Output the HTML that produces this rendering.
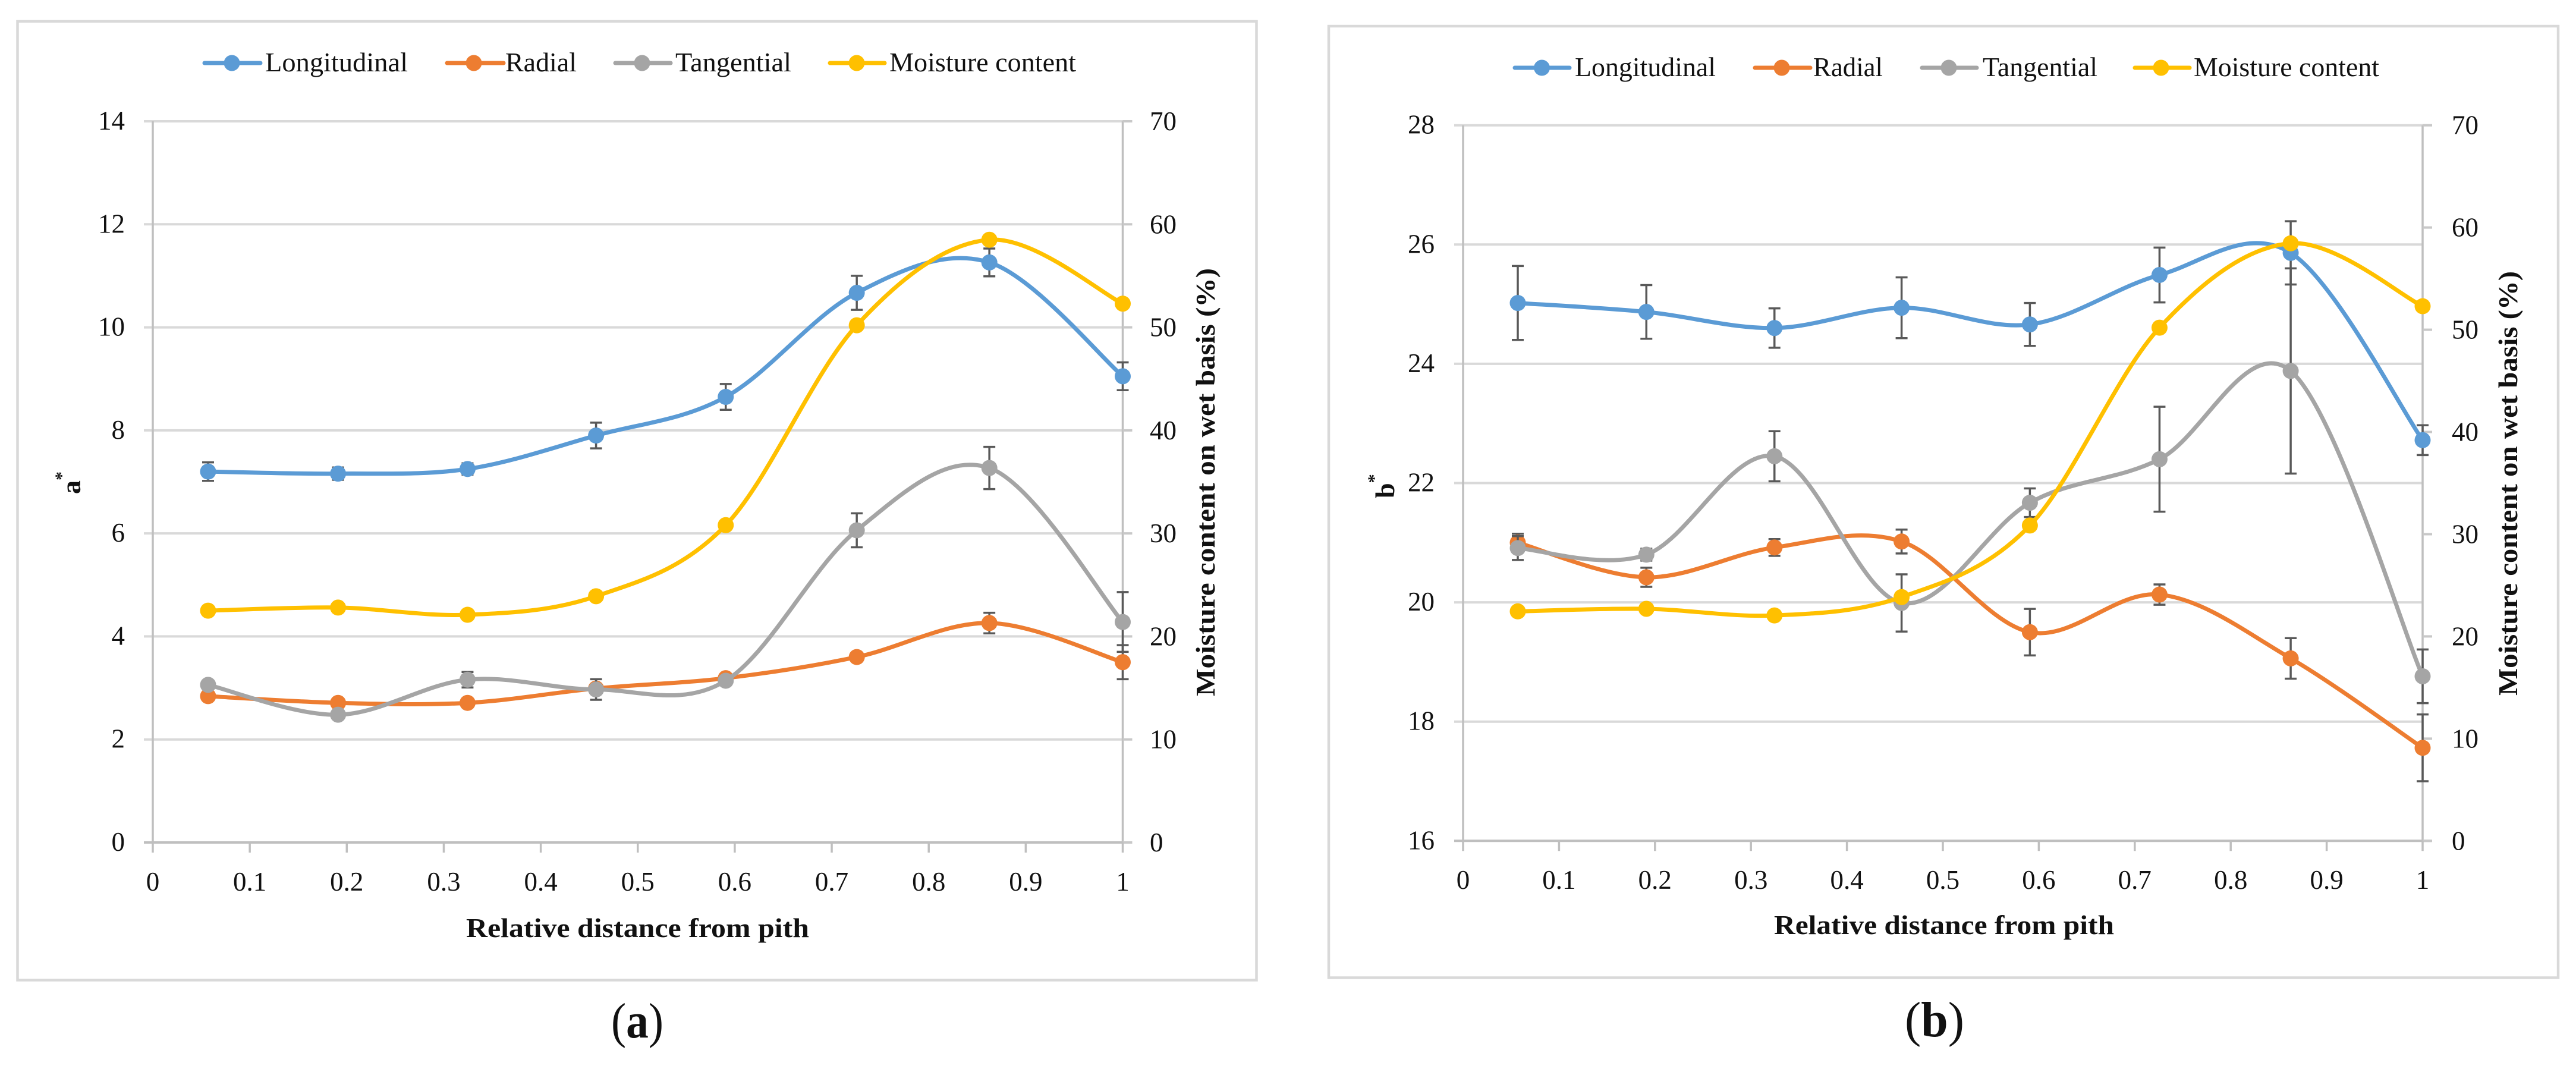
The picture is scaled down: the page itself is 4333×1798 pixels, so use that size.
<!DOCTYPE html>
<html lang="en">
<head>
<meta charset="utf-8">
<title>a* and b* versus relative distance from pith</title>
<style>
html,body{margin:0;padding:0;background:#fff;}
svg{display:block;}
text{font-family:"Liberation Serif",serif;fill:#111;}
.legend{font-size:45px;}
.tick{font-size:45px;}
.title{font-size:46px;font-weight:bold;}
.cap{font-size:84px;}
</style>
</head>
<body>
<svg id="figure" xmlns="http://www.w3.org/2000/svg" width="4333" height="1798" viewBox="0 0 4333 1798">
<rect x="0" y="0" width="4333" height="1798" fill="#fff"/>
<rect x="29.5" y="36" width="2084" height="1612.5" fill="#fff" stroke="#d9d9d9" stroke-width="4.5"/>
<rect x="2235" y="44" width="2068" height="1600.5" fill="#fff" stroke="#d9d9d9" stroke-width="4.5"/>

<g id="plot-a"></g>
<g id="plot-b"></g>

<g>
  <g>
    <line x1="344" x2="438" y1="106" y2="106" stroke="#5B9BD5" stroke-width="7" stroke-linecap="round"/><circle cx="390" cy="106" r="13.5" fill="#5B9BD5"/>
    <text class="legend" x="446" y="120" textLength="240" lengthAdjust="spacingAndGlyphs">Longitudinal</text>
  </g>
  <g>
    <line x1="752" x2="847" y1="106" y2="106" stroke="#ED7D31" stroke-width="7" stroke-linecap="round"/><circle cx="797" cy="106" r="13.5" fill="#ED7D31"/>
    <text class="legend" x="850" y="120" textLength="120" lengthAdjust="spacingAndGlyphs">Radial</text>
  </g>
  <g>
    <line x1="1035" x2="1128" y1="106" y2="106" stroke="#A5A5A5" stroke-width="7" stroke-linecap="round"/><circle cx="1080" cy="106" r="13.5" fill="#A5A5A5"/>
    <text class="legend" x="1136" y="120" textLength="195" lengthAdjust="spacingAndGlyphs">Tangential</text>
  </g>
  <g>
    <line x1="1396" x2="1488" y1="106" y2="106" stroke="#FFC000" stroke-width="7" stroke-linecap="round"/><circle cx="1441" cy="106" r="13.5" fill="#FFC000"/>
    <text class="legend" x="1496" y="120" textLength="314" lengthAdjust="spacingAndGlyphs">Moisture content</text>
  </g>
</g>

<g>
  <g>
    <line x1="2548" x2="2640" y1="114" y2="114" stroke="#5B9BD5" stroke-width="7" stroke-linecap="round"/><circle cx="2593.5" cy="114" r="13.5" fill="#5B9BD5"/>
    <text class="legend" x="2649" y="128" textLength="237" lengthAdjust="spacingAndGlyphs">Longitudinal</text>
  </g>
  <g>
    <line x1="2952" x2="3045" y1="114" y2="114" stroke="#ED7D31" stroke-width="7" stroke-linecap="round"/><circle cx="2997" cy="114" r="13.5" fill="#ED7D31"/>
    <text class="legend" x="3050" y="128" textLength="117" lengthAdjust="spacingAndGlyphs">Radial</text>
  </g>
  <g>
    <line x1="3233" x2="3325" y1="114" y2="114" stroke="#A5A5A5" stroke-width="7" stroke-linecap="round"/><circle cx="3278" cy="114" r="13.5" fill="#A5A5A5"/>
    <text class="legend" x="3335" y="128" textLength="193" lengthAdjust="spacingAndGlyphs">Tangential</text>
  </g>
  <g>
    <line x1="3591" x2="3683" y1="114" y2="114" stroke="#FFC000" stroke-width="7" stroke-linecap="round"/><circle cx="3635" cy="114" r="13.5" fill="#FFC000"/>
    <text class="legend" x="3690" y="128" textLength="312" lengthAdjust="spacingAndGlyphs">Moisture content</text>
  </g>
</g>

<text class="title" x="784" y="1576" textLength="577" lengthAdjust="spacingAndGlyphs">Relative distance from pith</text>
<text class="title" x="2984" y="1571" textLength="572" lengthAdjust="spacingAndGlyphs">Relative distance from pith</text>

<text class="title" transform="translate(135,831) rotate(-90)">a<tspan font-size="30" dy="-22">*</tspan></text>
<text class="title" transform="translate(2345,838) rotate(-90)">b<tspan font-size="30" dy="-24">*</tspan></text>

<text class="title" transform="translate(2043,1171) rotate(-90)" textLength="720" lengthAdjust="spacingAndGlyphs">Moisture content on wet basis (%)</text>
<text class="title" transform="translate(4234,1170) rotate(-90)" textLength="714" lengthAdjust="spacingAndGlyphs">Moisture content on wet basis (%)</text>

<text class="cap" x="1028" y="1745" textLength="88" lengthAdjust="spacingAndGlyphs">(<tspan font-weight="bold">a</tspan>)</text>
<text class="cap" x="3204" y="1743" textLength="100" lengthAdjust="spacingAndGlyphs">(<tspan font-weight="bold">b</tspan>)</text>
</svg>

<script>
// ---------- shared data ----------
const relativeDistance = [0.057, 0.191, 0.3245, 0.457, 0.5907, 0.7258, 0.8625, 1];
const xTickLabels = ['0','0.1','0.2','0.3','0.4','0.5','0.6','0.7','0.8','0.9','1'];
const xTickValues = [0,0.1,0.2,0.3,0.4,0.5,0.6,0.7,0.8,0.9,1];
const moistureTickValues = [0,10,20,30,40,50,60,70];

// ---------- panel a data ----------
const aTickValues = [0,2,4,6,8,10,12,14];
const aLongitudinal = [7.2,7.16,7.25,7.9,8.65,10.67,11.26,9.05];
const aLongitudinalErr = [0.18,0.12,0.11,0.25,0.25,0.33,0.27,0.27];
const aRadial = [2.84,2.71,2.71,2.99,3.19,3.60,4.26,3.50];
const aRadialErr = [0.05,0.05,0.05,0.05,0.05,0.05,0.20,0.33];
const aTangential = [3.06,2.48,3.16,2.97,3.14,6.06,7.27,4.28];
const aTangentialErr = [0.05,0.05,0.15,0.20,0.05,0.33,0.41,0.58];
const aMoisture = [22.5,22.8,22.1,23.9,30.8,50.2,58.5,52.3];

// ---------- panel b data ----------
const bTickValues = [16,18,20,22,24,26,28];
const bLongitudinal = [25.02,24.87,24.60,24.94,24.66,25.49,25.86,22.72];
const bLongitudinalErr = [0.62,0.45,0.33,0.51,0.36,0.46,0.53,0.25];
const bRadial = [21.00,20.42,20.92,21.02,19.50,20.13,19.06,17.56];
const bRadialErr = [0.15,0.16,0.14,0.20,0.39,0.17,0.34,0.56];
const bTangential = [20.91,20.80,22.45,19.99,21.67,22.40,23.88,18.76];
const bTangentialErr = [0.20,0.10,0.42,0.48,0.24,0.88,1.72,0.45];
const bMoisture = [22.45,22.7,22.05,23.85,30.85,50.2,58.45,52.3];

const SVGNS = 'http://www.w3.org/2000/svg';
function make(tag, attrs, parent) {
  const node = document.createElementNS(SVGNS, tag);
  for (const k in attrs) node.setAttribute(k, attrs[k]);
  parent.appendChild(node);
  return node;
}

// Smooth line (Catmull-Rom to Bezier), like spreadsheet "smoothed line"
function smoothPath(pts) {
  let d = 'M' + pts[0][0] + ' ' + pts[0][1];
  for (let i = 0; i < pts.length - 1; i++) {
    const p0 = pts[Math.max(i - 1, 0)], p1 = pts[i], p2 = pts[i + 1], p3 = pts[Math.min(i + 2, pts.length - 1)];
    const c1x = p1[0] + (p2[0] - p0[0]) / 6, c1y = p1[1] + (p2[1] - p0[1]) / 6;
    const c2x = p2[0] - (p3[0] - p1[0]) / 6, c2y = p2[1] - (p3[1] - p1[1]) / 6;
    d += ' C' + c1x + ' ' + c1y + ' ' + c2x + ' ' + c2y + ' ' + p2[0] + ' ' + p2[1];
  }
  return d;
}

function drawPanel(id, box, yDomain, yTicks, seriesList, moisture, labelPos) {
  const root = document.getElementById('plot-' + id);
  const xScale = v => box.left + (box.right - box.left) * v;
  const yScale = v => box.bottom - (box.bottom - box.top) * (v - yDomain[0]) / (yDomain[1] - yDomain[0]);
  const y2Scale = v => box.bottom - (box.bottom - box.top) * v / 70;

  // gridlines and left tick marks
  yTicks.forEach(v => {
    const y = yScale(v);
    if (v !== yDomain[0]) {
      const g = make('line', {x1: box.left - 15, x2: box.right, y1: y, y2: y, stroke: '#d9d9d9', 'stroke-width': 4}, root);
      
      
    }
    const t = make('text', {class: 'tick', x: labelPos.yRight, y: y + 14, 'text-anchor': 'end'}, root);
    
    
    t.textContent = String(v);
  });

  // axes
  const leftAxis = make('line', {x1: box.left, x2: box.left, y1: box.top, y2: box.bottom, stroke: '#bfbfbf', 'stroke-width': 3.5}, root);
  
  
  const rightAxis = make('line', {x1: box.right, x2: box.right, y1: box.top, y2: box.bottom, stroke: '#bfbfbf', 'stroke-width': 3.5}, root);
  
  
  const bottomAxis = make('line', {x1: box.left - 15, x2: box.right + 15, y1: box.bottom, y2: box.bottom, stroke: '#bfbfbf', 'stroke-width': 4}, root);
  
  

  // secondary axis ticks
  moistureTickValues.forEach(v => {
    const y = y2Scale(v);
    const m = make('line', {x1: box.right, x2: box.right + 16, y1: y, y2: y, stroke: '#c8c8c8', 'stroke-width': 4}, root);
    
    
    const t = make('text', {class: 'tick', x: labelPos.y2Left, y: y + 15}, root);
    
    
    t.textContent = String(v);
  });

  // x ticks
  xTickValues.forEach((v, i) => {
    const x = xScale(v);
    const m = make('line', {x1: x, x2: x, y1: box.bottom, y2: box.bottom + 17, stroke: '#bfbfbf', 'stroke-width': 3.5}, root);
    
    
    const t = make('text', {class: 'tick', x: x, y: labelPos.xBaseline, 'text-anchor': 'middle'}, root);
    
    
    t.textContent = xTickLabels[i];
  });

  // primary-axis series with error bars
  seriesList.forEach(s => {
    const pts = s.values.map((v, i) => [xScale(relativeDistance[i]), yScale(v)]);
    const group = make('g', {}, root);
    
    

    s.values.forEach((v, i) => {
      const x = xScale(relativeDistance[i]);
      const hi = yScale(v + s.err[i]), lo = yScale(v - s.err[i]);
      const eb = make('path', {d: `M${x} ${hi}V${lo}M${x - 10} ${hi}H${x + 10}M${x - 10} ${lo}H${x + 10}`, fill: 'none', stroke: '#595959', 'stroke-width': 3.5}, group);
      
      
    });

    const line = make('path', {d: smoothPath(pts), fill: 'none', stroke: s.color, 'stroke-width': 7, 'stroke-linecap': 'round'}, group);
    
    

    pts.forEach(p => {
      const c = make('circle', {cx: p[0], cy: p[1], r: 13.5, fill: s.color}, group);
      
      
    });
  });

  // moisture content on the secondary axis
  const mPts = moisture.map((v, i) => [xScale(relativeDistance[i]), y2Scale(v)]);
  const mGroup = make('g', {}, root);
  
  
  const mLine = make('path', {d: smoothPath(mPts), fill: 'none', stroke: '#FFC000', 'stroke-width': 7, 'stroke-linecap': 'round'}, mGroup);
  
  
  mPts.forEach(p => {
    const c = make('circle', {cx: p[0], cy: p[1], r: 13.5, fill: '#FFC000'}, mGroup);
    
    
  });
}

drawPanel('a',
  {left: 257, right: 1888.5, top: 204, bottom: 1417},
  [0, 14], aTickValues,
  [
    {name: 'longitudinal', color: '#5B9BD5', values: aLongitudinal, err: aLongitudinalErr},
    {name: 'radial', color: '#ED7D31', values: aRadial, err: aRadialErr},
    {name: 'tangential', color: '#A5A5A5', values: aTangential, err: aTangentialErr}
  ],
  aMoisture,
  {yRight: 210, y2Left: 1934, xBaseline: 1498});

drawPanel('b',
  {left: 2461, right: 4075, top: 210.7, bottom: 1414.3},
  [16, 28], bTickValues,
  [
    {name: 'longitudinal', color: '#5B9BD5', values: bLongitudinal, err: bLongitudinalErr},
    {name: 'radial', color: '#ED7D31', values: bRadial, err: bRadialErr},
    {name: 'tangential', color: '#A5A5A5', values: bTangential, err: bTangentialErr}
  ],
  bMoisture,
  {yRight: 2413, y2Left: 4124, xBaseline: 1495});
</script>
</body>
</html>
